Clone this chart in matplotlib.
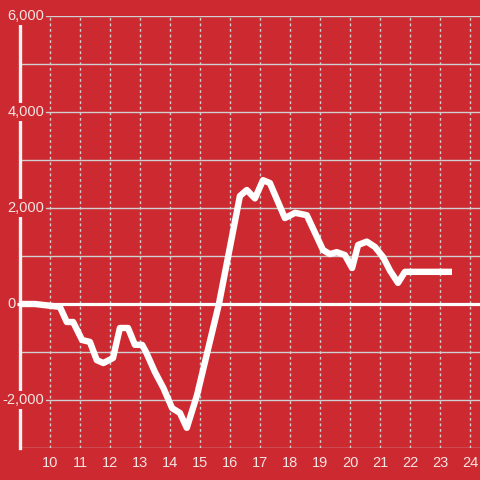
import matplotlib
matplotlib.use("Agg")
import matplotlib.pyplot as plt
import matplotlib.transforms as mtransforms

hours = [9.0, 9.5, 10.33, 10.56, 10.77, 11.07, 11.33, 11.56, 11.78, 12.1, 12.33, 12.6,
         12.83, 13.07, 13.2, 13.5, 13.78, 14.07, 14.33, 14.56, 14.9, 15.63, 16.33,
         16.56, 16.83, 17.1, 17.33, 17.83, 18.17, 18.56, 19.1, 19.33, 19.56, 19.83,
         20.07, 20.27, 20.56, 20.83, 21.1, 21.33, 21.6, 21.83, 23.4]
values = [0, 0, -60, -375, -375, -750, -790, -1170, -1230, -1125, -500, -500,
          -850, -850, -1000, -1420, -1750, -2170, -2270, -2580, -1900, 0, 2250,
          2375, 2200, 2580, 2520, 1790, 1900, 1850, 1125, 1040, 1080, 1020,
          750, 1230, 1300, 1190, 980, 700, 440, 670, 670]
x_ticks = list(range(10, 25))
y_label_vals = [6000, 4000, 2000, 0, -2000]
y_label_txt = ["6,000", "4,000", "2,000", "0", "-2,000"]
y_grid = [-3000, -2000, -1000, 1000, 2000, 3000, 4000, 5000, 6000]

BG = "#cc2a30"
GRID = "#cfcfcf"
TXT = "#f4e4e4"

plt.rcParams['font.family'] = ['Liberation Sans', 'DejaVu Sans']
fig = plt.figure(figsize=(4.8, 4.8), dpi=100, facecolor=BG)
ax = fig.add_axes([20/480, 32/480, 460/480, 432/480])
ax.set_facecolor(BG)
ax.set_xlim(9, 24 + 1/3)
ax.set_ylim(-3000, 6000)

for s in ["top", "right", "bottom"]:
    ax.spines[s].set_visible(False)
ax.spines["left"].set_color("#f2f2f2")
ax.spines["left"].set_linewidth(2.4)
ax.spines["left"].set_bounds(-3000, 5830)
ax.spines["left"].set_zorder(1)

ax.set_xticks([]); ax.set_yticks([])

for g in y_grid:
    ax.axhline(g, color=GRID, lw=1.0, zorder=0.5)
for xv in x_ticks:
    ax.axvline(xv, color=GRID, lw=1.0, ls=(0, (2, 2)), zorder=0.5)

trans = mtransforms.blended_transform_factory(fig.transFigure, ax.transData)
for v, t in zip(y_label_vals, y_label_txt):
    xr = 16/480 if v == 0 else 44/480
    ax.text(xr, v, t, transform=trans, ha="right", va="center", color=TXT,
            fontsize=10.5, zorder=2, clip_on=False,
            bbox=dict(facecolor=BG, edgecolor="none", pad=1.5))

ax.plot([8.9, 24.4], [0, 0], color="white", lw=2.3, zorder=3, clip_on=False,
        solid_capstyle="butt")

xlab_trans = mtransforms.offset_copy(ax.transData, fig=fig, y=-8/100*72, units="points")
for xv in x_ticks:
    ax.text(xv, -3000, str(xv), transform=xlab_trans, ha="center", va="top",
            color=TXT, fontsize=10.5, clip_on=False)

ax.plot(hours, values, color="white", lw=4.6, zorder=4, solid_joinstyle="round",
        solid_capstyle="butt", clip_on=False)

fig.savefig("out.png", dpi=100, facecolor=BG)
